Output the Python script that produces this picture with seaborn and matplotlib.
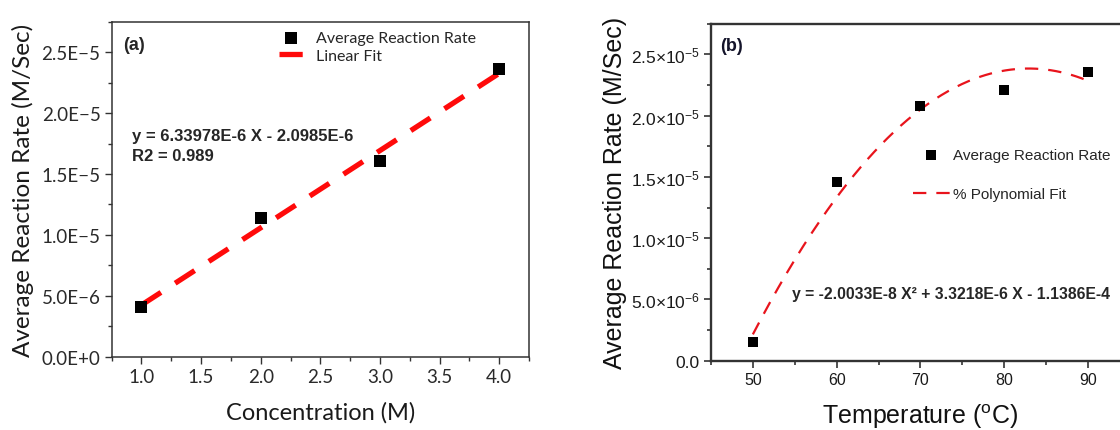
import numpy as np
import pandas as pd
import seaborn as sns
import matplotlib
matplotlib.use("Agg")
import matplotlib.pyplot as plt
from matplotlib.ticker import MultipleLocator, FixedLocator

# ---- data -------------------------------------------------------------
conc = [1.0, 2.0, 3.0, 4.0]
rate_conc = [4.1e-6, 1.14e-5, 1.61e-5, 2.36e-5]
lin_slope, lin_icept = 6.33978e-6, -2.0985e-6

temp = [50, 60, 70, 80, 90]
rate_temp = [1.5e-6, 1.455e-5, 2.075e-5, 2.21e-5, 2.355e-5]
poly_coef = [-2.0033e-8, 3.3218e-6, -1.1386e-4]

conc_ticks = [1.0, 1.5, 2.0, 2.5, 3.0, 3.5, 4.0]
conc_tick_labels = ["1.0", "1.5", "2.0", "2.5", "3.0", "3.5", "4.0"]
rate_ticks = [0.0, 5e-6, 1e-5, 1.5e-5, 2e-5, 2.5e-5]
rate_tick_labels_a = ["0.0E+0", "5.0E\u22126", "1.0E\u22125", "1.5E\u22125",
                      "2.0E\u22125", "2.5E\u22125"]
rate_tick_labels_b = ["0.0", r"$5.0{\times}10^{-6}$", r"$1.0{\times}10^{-5}$",
                      r"$1.5{\times}10^{-5}$", r"$2.0{\times}10^{-5}$",
                      r"$2.5{\times}10^{-5}$"]
temp_ticks = [50, 60, 70, 80, 90]

sns.set_theme(style="ticks")
plt.rcParams.update({
    "font.family": ["Liberation Sans", "DejaVu Sans"],
    "mathtext.fontset": "custom",
    "mathtext.rm": "Liberation Sans",
    "mathtext.it": "Liberation Sans:italic",
    "mathtext.bf": "Liberation Sans:bold",
    "xtick.direction": "out",
    "ytick.direction": "out",
})

RED_A = "#ff0a0a"
RED_B = "#e8141c"
SANS_A = ["Lato", "DejaVu Sans"]
SANS_B = ["Liberation Sans", "DejaVu Sans"]

fig = plt.figure(figsize=(11.2, 4.31), dpi=100)
axA = fig.add_axes([0.0997, 0.1701, 0.3726, 0.7772])
axB = fig.add_axes([0.6348, 0.1608, 0.3741, 0.7819])

# ---- panel (a): rate vs concentration ----------------------------------
df_a = pd.DataFrame({"conc": conc, "rate": rate_conc})
fit_x = np.array([conc[0], conc[-1]])
df_fit = pd.DataFrame({"conc": fit_x, "rate": lin_slope * fit_x + lin_icept})

sns.lineplot(data=df_fit, x="conc", y="rate", ax=axA, color=RED_A, lw=3.8,
             linestyle=(0, (4.4, 3.2)), label="Linear Fit", zorder=2)
sns.scatterplot(data=df_a, x="conc", y="rate", ax=axA, marker="s", s=64,
                color="black", linewidth=0, label="Average Reaction Rate",
                zorder=3)

axA.set_xlim(0.75, 4.25)
axA.set_ylim(0, 2.75e-5)
axA.xaxis.set_major_locator(FixedLocator(conc_ticks))
axA.xaxis.set_minor_locator(MultipleLocator(0.25))
axA.yaxis.set_major_locator(FixedLocator(rate_ticks))
axA.yaxis.set_minor_locator(MultipleLocator(2.5e-6))
axA.set_xticklabels(conc_tick_labels, family=SANS_A, fontsize=13.5, color="#2a2a2a")
axA.set_yticklabels(rate_tick_labels_a, family=SANS_A, fontsize=13.5, color="#2a2a2a")
axA.tick_params(which="major", length=5, width=1.0, color="#333333", pad=3)
axA.tick_params(which="minor", length=3, width=1.0, color="#333333")
for sp in axA.spines.values():
    sp.set_visible(True)
    sp.set_linewidth(1.1)
    sp.set_color("#333333")

axA.set_xlabel("Concentration (M)", family=SANS_A, fontsize=17, color="#1a1a1a")
axA.set_ylabel("Average Reaction Rate (M/Sec)", family=SANS_A, fontsize=17.5,
               color="#1a1a1a")
axA.xaxis.set_label_coords(0.5, -0.165)
axA.xaxis.label.set_va("center")
axA.yaxis.set_label_coords(-0.212, 0.5)
axA.yaxis.label.set_va("center")

h, l = axA.get_legend_handles_labels()
order = [l.index("Average Reaction Rate"), l.index("Linear Fit")]
axA.legend([h[i] for i in order], [l[i] for i in order], loc="upper left",
           bbox_to_anchor=(0.381, 0.996), frameon=False, borderpad=0,
           handlelength=1.5, handletextpad=0.85, labelspacing=0.2,
           prop={"family": SANS_A, "size": 11.5})

axA.text(0.048, 0.660, "y = 6.33978E-6 X - 2.0985E-6", transform=axA.transAxes,
         fontsize=12, fontweight="bold", family=SANS_B, va="center", ha="left")
axA.text(0.048, 0.600, "R2 = 0.989", transform=axA.transAxes,
         fontsize=12, fontweight="bold", family=SANS_B, va="center", ha="left")
axA.text(0.027, 0.933, "(a)", transform=axA.transAxes, fontsize=13,
         fontweight="bold", family=SANS_B, va="center", ha="left")

# ---- panel (b): rate vs temperature ------------------------------------
df_b = pd.DataFrame({"temp": temp, "rate": rate_temp})
tx = np.linspace(temp[0], temp[-1], 200)
df_poly = pd.DataFrame({"temp": tx, "rate": np.polyval(poly_coef, tx)})

sns.lineplot(data=df_poly, x="temp", y="rate", ax=axB, color=RED_B, lw=1.6,
             linestyle=(0, (6, 4.5)), label="% Polynomial Fit", zorder=2)
sns.scatterplot(data=df_b, x="temp", y="rate", ax=axB, marker="s", s=60,
                color="black", linewidth=0, label="Average Reaction Rate",
                zorder=3)

axB.set_xlim(45, 95)
axB.set_ylim(0, 2.75e-5)
axB.xaxis.set_major_locator(FixedLocator(temp_ticks))
axB.xaxis.set_minor_locator(MultipleLocator(5))
axB.yaxis.set_major_locator(FixedLocator(rate_ticks))
axB.yaxis.set_minor_locator(MultipleLocator(2.5e-6))
axB.set_xticklabels([str(t) for t in temp_ticks], family=SANS_B, fontsize=11.5,
                    color="#1a1a1a")
axB.set_yticklabels(rate_tick_labels_b, family=SANS_B, fontsize=12.5,
                    color="#1a1a1a")
axB.tick_params(which="major", length=5, width=1.2, color="#333333", pad=3)
axB.tick_params(which="minor", length=3, width=1.2, color="#333333")
for sp in axB.spines.values():
    sp.set_visible(True)
    sp.set_linewidth(1.7)
    sp.set_color("#333333")

axB.set_xlabel("Temperature ($^{\\mathrm{o}}$C)", family=SANS_B, fontsize=18,
               color="#111111")
axB.set_ylabel("Average Reaction Rate (M/Sec)", family=SANS_B, fontsize=18,
               color="#111111")
axB.xaxis.set_label_coords(0.5, -0.164)
axB.xaxis.label.set_va("center")
axB.yaxis.set_label_coords(-0.229, 0.5)
axB.yaxis.label.set_va("center")

h, l = axB.get_legend_handles_labels()
order = [l.index("Average Reaction Rate"), l.index("% Polynomial Fit")]
axB.legend([h[i] for i in order], [l[i] for i in order], loc="upper left",
           bbox_to_anchor=(0.464, 0.653), frameon=False, borderpad=0,
           handlelength=2.4, handletextpad=0.22, labelspacing=1.65,
           prop={"family": SANS_B, "size": 11})

axB.text(0.1926, 0.198, "y = -2.0033E-8 X\u00b2 + 3.3218E-6 X - 1.1386E-4",
         transform=axB.transAxes, fontsize=11.3, fontweight="bold",
         family=SANS_B, va="center", ha="left")
axB.text(0.0215, 0.935, "(b)", transform=axB.transAxes, fontsize=13,
         fontweight="bold", family=SANS_B, va="center", ha="left",
         color="#14142a")

fig.savefig("out.png", dpi=100)
